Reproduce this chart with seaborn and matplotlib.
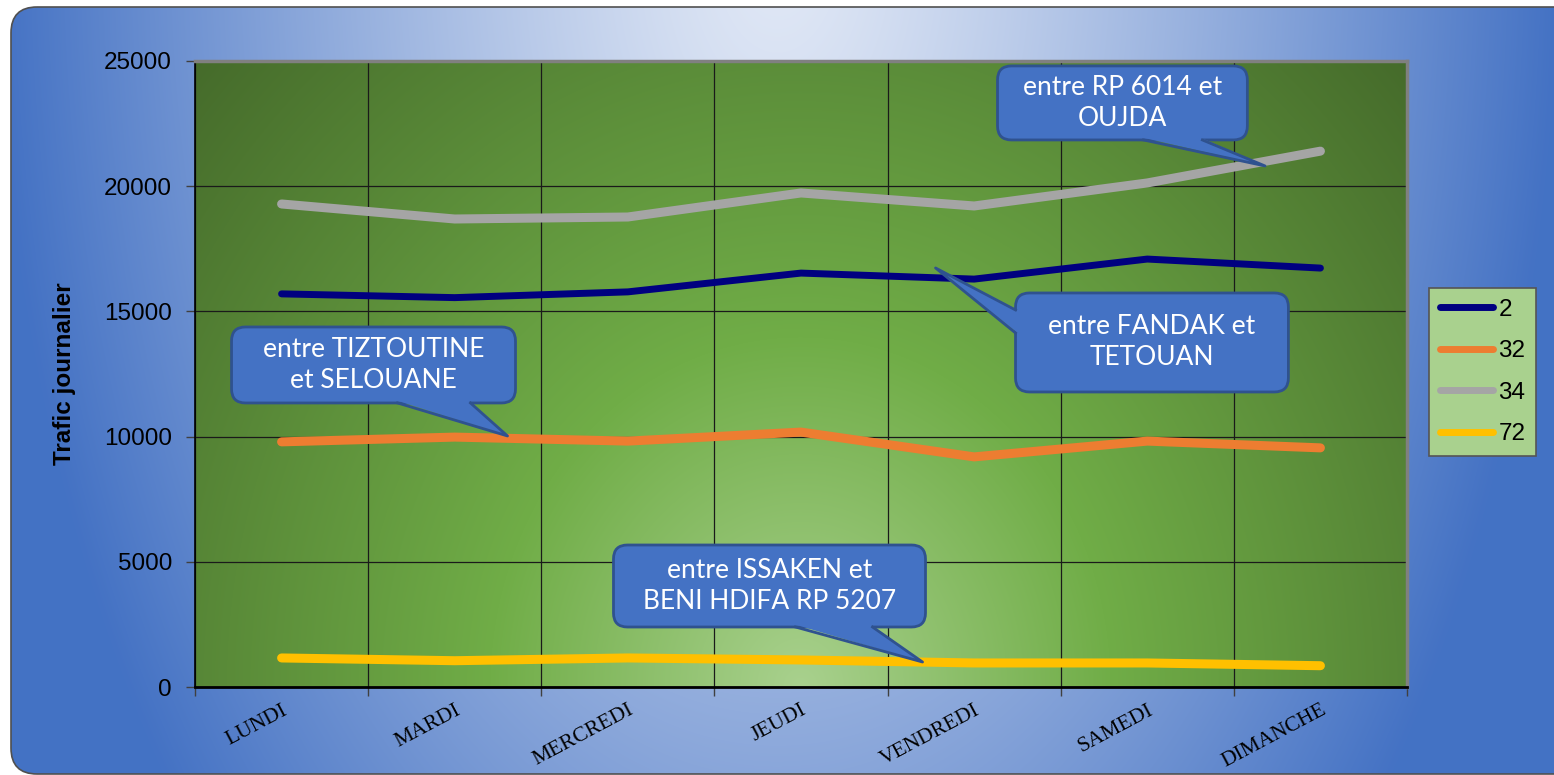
import numpy as np
import pandas as pd
import matplotlib
matplotlib.use("Agg")
import matplotlib.pyplot as plt
import seaborn as sns
from matplotlib.patches import FancyBboxPatch, Polygon
from matplotlib.lines import Line2D
from matplotlib.transforms import IdentityTransform

# donnees
jours = ["LUNDI", "MARDI", "MERCREDI", "JEUDI", "VENDREDI", "SAMEDI", "DIMANCHE"]
route_2 = [15700, 15550, 15780, 16530, 16290, 17090, 16730]
route_32 = [9790, 9980, 9820, 10180, 9190, 9820, 9550]
route_34 = [19290, 18690, 18770, 19730, 19210, 20130, 21400]
route_72 = [1160, 1050, 1160, 1080, 960, 960, 850]
routes = ["2", "32", "34", "72"]
couleurs = ["#000080", "#ED7D31", "#A5A5A5", "#FFC000"]
epaisseurs = [5, 6.5, 6.5, 6.5]

# bulles : texte, boite (x gauche, x droite, y bas, y haut), pointe, base du pointeur
bulles = [
    ("entre RP 6014 et\nOUJDA", (4.135, 5.578, 21847, 24803), (5.68, 20809),
     [(4.978, 21847), (5.318, 21847)]),
    ("entre TIZTOUTINE\net SELOUANE", (-0.289, 1.351, 11343, 14378), (1.305, 10025),
     [(0.670, 11343), (1.091, 11343)]),
    ("entre FANDAK et\nTETOUAN", (4.239, 5.815, 11782, 15736), (3.777, 16735),
     [(4.239, 15057), (4.239, 14139)]),
    ("entre ISSAKEN et\nBENI HDIFA RP 5207", (1.917, 3.719, 2396, 5671), (3.702, 998),
     [(2.968, 2396), (3.413, 2396)]),
]

df = pd.DataFrame({
    "jour": jours * 4,
    "route": np.repeat(routes, len(jours)),
    "trafic": route_2 + route_32 + route_34 + route_72,
})

W, H = 1554, 775
fig = plt.figure(figsize=(W / 100, H / 100), dpi=100)
fig.patch.set_facecolor("white")

# fond bleu degrade avec coins arrondis
fond = fig.add_axes([0, 0, 1, 1], zorder=-10)
fond.axis("off")
yy, xx = np.mgrid[0:H, 0:W]
t = np.clip(np.sqrt(((xx - 777) / 780) ** 2 + ((yy + 60) / 1350) ** 2), 0, 1) ** 1.2
clair = np.array([226, 233, 246]) / 255
bleu = np.array([68, 114, 196]) / 255
img = clair + (bleu - clair) * t[..., None]
im = fond.imshow(img, extent=(0, W, H, 0), aspect="auto", interpolation="bilinear")
fond.set_xlim(0, W)
fond.set_ylim(H, 0)
cadre = FancyBboxPatch((11, 7), W + 60, H - 8, boxstyle="round,pad=0,rounding_size=26",
                       facecolor="none", edgecolor="#505050", linewidth=1.2)
fond.add_patch(cadre)
im.set_clip_path(cadre)

# zone de trace
ax = fig.add_axes([195 / W, 1 - 687 / H, (1407 - 195) / W, (687 - 61) / H])
yy2, xx2 = np.mgrid[61:687, 195:1407]
d = np.sqrt(((xx2 - 800) / 620) ** 2 + ((yy2 - 687) / 700) ** 2)
stops = [0, 0.5, 1.35]
vert = np.dstack([
    np.interp(d, stops, [169, 112, 68]),
    np.interp(d, stops, [209, 173, 105]),
    np.interp(d, stops, [142, 71, 42]),
]) / 255
ax.imshow(vert, extent=(-0.5, 6.5, 0, 25000), origin="upper", aspect="auto",
          interpolation="bilinear", zorder=0)

sns.lineplot(data=df, x="jour", y="trafic", hue="route",
             palette=dict(zip(routes, couleurs)), linewidth=6,
             sort=False, estimator=None, legend=False, ax=ax, zorder=3)
for ligne, lw in zip(ax.lines, epaisseurs):
    ligne.set_linewidth(lw)
    ligne.set_solid_capstyle("round")
    ligne.set_solid_joinstyle("round")

ax.set_xlim(-0.5, 6.5)
ax.set_ylim(0, 25000)
ax.set_yticks(range(0, 25001, 5000))
ax.set_yticklabels([str(v) for v in range(0, 25001, 5000)],
                   fontsize=17.5, family="Liberation Sans")
ax.set_xticks(range(len(jours)))
ax.set_xticklabels(jours, rotation=28, ha="right", va="top", rotation_mode="anchor",
                   fontsize=15.5, family="Liberation Serif")
ax.set_xticks(np.arange(-0.5, 7, 1), minor=True)
ax.tick_params(axis="x", which="major", length=0, pad=10)
ax.tick_params(axis="x", which="minor", length=6.5, width=1, color="#404040")
ax.tick_params(axis="y", length=6.5, width=1, color="#404040", pad=10)
ax.set_axisbelow(True)
ax.grid(True, axis="y", which="major", color="#1a1a1a", linewidth=0.9)
ax.grid(True, axis="x", which="minor", color="#1a1a1a", linewidth=0.9)
ax.grid(False, axis="x", which="major")
ax.set_xlabel("")
ax.set_ylabel("Trafic journalier", fontsize=17.5, fontweight="bold",
              family="Liberation Sans", labelpad=20)
ax.spines["left"].set_color("black")
ax.spines["left"].set_linewidth(1.2)
ax.spines["bottom"].set_color("black")
ax.spines["bottom"].set_linewidth(2)
for s in ["top", "right"]:
    ax.spines[s].set_color("#808080")
    ax.spines[s].set_linewidth(2.5)

# legende
poignees = [Line2D([0], [0], color=c, linewidth=5, solid_capstyle="round") for c in couleurs]
leg = ax.legend(poignees, routes, loc="upper left", bbox_to_anchor=(1429 / W, 1 - 288 / H),
                bbox_transform=fig.transFigure, borderaxespad=0, fancybox=False,
                frameon=True, handlelength=2.2, handletextpad=0.2, labelspacing=0.8,
                borderpad=0.45, prop={"family": "Liberation Sans", "size": 17.5})
leg.get_frame().set_facecolor("#A9D18E")
leg.get_frame().set_edgecolor("#555555")
leg.get_frame().set_linewidth(1.2)
leg.get_frame().set_alpha(1)

# bulles d'annotation
tr = ax.transData
for texte, boite, pointe, base in bulles:
    (x0, y0), (x1, y1) = tr.transform([(boite[0], boite[2]), (boite[1], boite[3])])
    ax.add_patch(FancyBboxPatch((x0, y0), x1 - x0, y1 - y0,
                                boxstyle="round,pad=0,rounding_size=14",
                                transform=IdentityTransform(), facecolor="#4472C4",
                                edgecolor="#2F528F", linewidth=2, zorder=5, clip_on=False))
    p = tr.transform([base[0], pointe, base[1]])
    cx, cy = (x0 + x1) / 2, (y0 + y1) / 2
    interne = [(bx + (cx - bx) * 0.02, by + (cy - by) * 0.06) for bx, by in (p[0], p[2])]
    ax.add_patch(Polygon([interne[0], p[1], interne[1]], closed=True,
                         transform=IdentityTransform(), facecolor="#4472C4",
                         edgecolor="none", zorder=6, clip_on=False))
    ax.add_line(Line2D([p[0][0], p[1][0], p[2][0]], [p[0][1], p[1][1], p[2][1]],
                       transform=IdentityTransform(), color="#2F528F", linewidth=2,
                       zorder=6, clip_on=False))
    ax.text(cx, cy, texte, transform=IdentityTransform(), ha="center", va="center",
            color="white", fontsize=19, family="Lato", linespacing=1.3, zorder=7)

fig.savefig("out.png", dpi=100)
